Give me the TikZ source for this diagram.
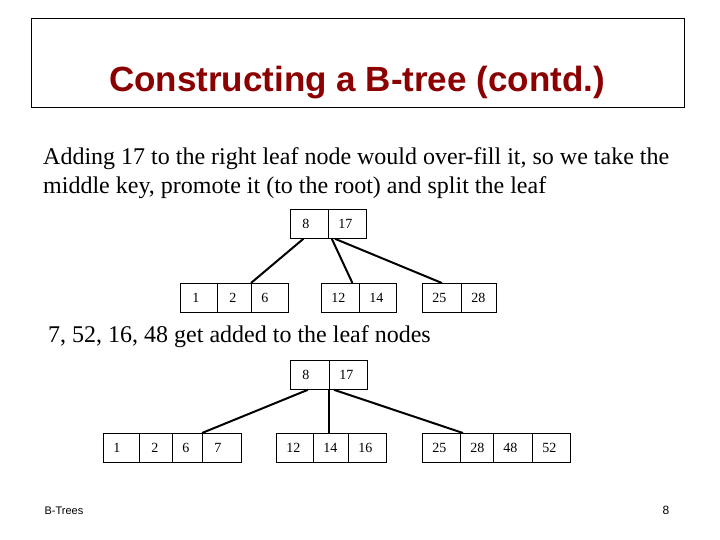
\documentclass[tikz,border=0pt]{standalone}
\usepackage{fontspec}
\setmainfont{Liberation Serif}
\setsansfont{Liberation Sans}
\begin{document}
\begin{tikzpicture}[x=1pt,y=-1pt,
  cell/.style={draw,line width=0.8pt,anchor=north west,minimum height=29pt,inner sep=0pt,text width=#1-8pt,minimum width=#1,align=left,font=\fontsize{14}{16}\selectfont},
  link/.style={line width=2pt}]
\useasboundingbox (0,0) rectangle (720,540);
\node[draw,line width=0.6pt,anchor=north west,minimum width=653pt,minimum height=89pt] (tb) at (31,18) {};
\node[font=\sffamily\bfseries\fontsize{35}{40}\selectfont,text={rgb,255:red,139;green,0;blue,0}] (title) at (357,83) {Constructing a B-tree (contd.)};
\node[anchor=north west,align=left,font=\fontsize{24}{29}\selectfont,inner sep=0pt] (t1) at (43,147) {Adding 17 to the right leaf node would over-fill it, so we take the\\middle key, promote it (to the root) and split the leaf};
% tree 1
\node[cell=38pt] (ra) at (290,209) {\hspace*{8pt}8};
\node[cell=38pt] (rb) at (328,209) {\hspace*{6pt}17};
\node[cell=37pt] (aa) at (180,283) {\hspace*{8pt}1};
\node[cell=34pt] (ab) at (217,283) {\hspace*{8pt}2};
\node[cell=37pt] (ac) at (251,283) {\hspace*{6pt}6};
\node[cell=38pt] (ba) at (321,283) {\hspace*{6pt}12};
\node[cell=37pt] (bb) at (359,283) {\hspace*{6pt}14};
\node[cell=39pt] (ca) at (422,283) {\hspace*{6pt}25};
\node[cell=35pt] (cb) at (461,283) {\hspace*{6pt}28};
\draw[link] ([xshift=-6pt]ra.south) -- (ac.north west);
\draw[link] ([xshift=3pt]ra.south east) -- ([xshift=12pt]ba.north);
\draw[link] ([xshift=7pt]rb.south west) -- ([xshift=0pt]ca.north);
\node[anchor=north west,font=\fontsize{24}{29}\selectfont,inner sep=0pt] (t2) at (48,325) {7, 52, 16, 48 get added to the leaf nodes};
% tree 2
\node[cell=39pt] (sa) at (290,360) {\hspace*{8pt}8};
\node[cell=38pt] (sb) at (329,360) {\hspace*{6pt}17};
\node[cell=36pt] (da) at (103,433) {\hspace*{6pt}1};
\node[cell=33pt] (db) at (139,433) {\hspace*{8pt}2};
\node[cell=30pt] (dc) at (172,433) {\hspace*{6pt}6};
\node[cell=39pt] (dd) at (202,433) {\hspace*{8pt}7};
\node[cell=37pt] (ea) at (276,433) {\hspace*{6pt}12};
\node[cell=35pt] (eb) at (313,433) {\hspace*{6pt}14};
\node[cell=38pt] (ec) at (348,433) {\hspace*{6pt}16};
\node[cell=38pt] (fa) at (422,433) {\hspace*{6pt}25};
\node[cell=33pt] (fb) at (460,433) {\hspace*{6pt}28};
\node[cell=39pt] (fc) at (493,433) {\hspace*{6pt}48};
\node[cell=38pt] (fd) at (532,433) {\hspace*{6pt}52};
\draw[link] ([xshift=-2pt]sa.south) -- (dd.north west);
\draw[link] (sb.south west) -- (sb.south west |- eb.north);
\draw[link] ([xshift=5pt]sb.south west) -- ([xshift=3pt]fb.north west);
\node[font=\sffamily\fontsize{11}{13}\selectfont] (ft) at (64,511) {B-Trees};
\node[font=\sffamily\fontsize{12}{14}\selectfont] (pg) at (666,510) {8};
\end{tikzpicture}
\end{document}
